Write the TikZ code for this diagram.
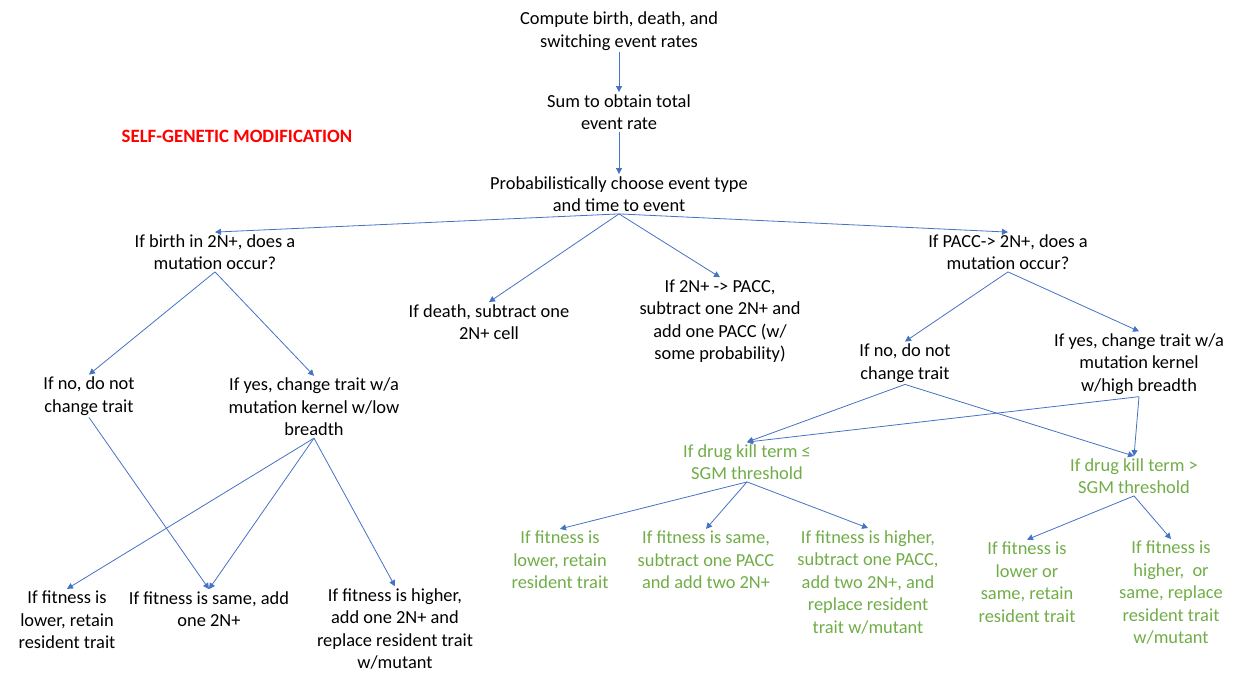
\documentclass[tikz,border=0pt]{standalone}
\usepackage{fontspec}
\setmainfont{Carlito}
\usetikzlibrary{arrows.meta}
\definecolor{arrblue}{RGB}{68,114,196}
\definecolor{sgmgreen}{RGB}{112,173,71}
\definecolor{sgmred}{RGB}{255,0,0}

\begin{document}
\begin{tikzpicture}[x=1pt,y=-1pt,
  txt/.style={align=center, inner sep=2pt, font=\fontsize{18.4}{22.5}\selectfont},
  grn/.style={txt, text=sgmgreen},
  arr/.style={arrblue, line width=0.8pt, -{Triangle[width=6pt,length=6pt]}}]
\useasboundingbox (0,0) rectangle (1237,673);
% main chain
\node[txt] (rates) at (619,31) {Compute birth, death, and\\switching event rates};
\node[txt] (sum) at (619,112) {Sum to obtain total\\event rate};
\node[txt] (choose) at (619,194) {Probabilistically choose event type\\and time to event};
\node[txt, text=sgmred, font=\fontsize{18.8}{22}\bfseries] (title) at (237,136) {SELF-GENETIC MODIFICATION};
% events
\node[txt] (birth) at (215,252) {If birth in 2N+, does a\\mutation occur?};
\node[txt] (death) at (489,322) {If death, subtract one\\2N+ cell};
\node[txt] (topacc) at (720,321) {If 2N+ -> PACC,\\subtract one 2N+ and\\add one PACC (w/\\some probability)};
\node[txt] (frompacc) at (1008,252) {If PACC-> 2N+, does a\\mutation occur?};
% birth branch
\node[txt] (lno) at (89,396) {If no, do not\\change trait};
\node[txt] (lyes) at (314,407) {If yes, change trait w/a\\mutation kernel w/low\\breadth};
\node[txt] (llow) at (67,620) {If fitness is\\lower, retain\\resident trait};
\node[txt] (lsame) at (209,609) {If fitness is same, add\\one 2N+};
\node[txt] (lhigh) at (395,629) {If fitness is higher,\\add one 2N+ and\\replace resident trait\\w/mutant};
% PACC branch
\node[txt] (rno) at (905,363) {If no, do not\\change trait};
\node[txt] (ryes) at (1139,364) {If yes, change trait w/a\\mutation kernel\\w/high breadth};
\node[grn] (le) at (747,462) {If drug kill term ≤\\SGM threshold};
\node[grn] (gt) at (1134,476) {If drug kill term >\\SGM threshold};
\node[grn] (rlow) at (560,560) {If fitness is\\lower, retain\\resident trait};
\node[grn] (rsame) at (706,560) {If fitness is same,\\subtract one PACC\\and add two 2N+};
\node[grn] (rhigh) at (868,582) {If fitness is higher,\\subtract one PACC,\\add two 2N+, and\\replace resident\\trait w/mutant};
\node[grn] (rlowsame) at (1027,582) {If fitness is\\lower or\\same, retain\\resident trait};
\node[grn] (rhighsame) at (1171,593) {If fitness is\\higher,~ or\\same, replace\\resident trait\\w/mutant};
% connectors
\draw[arr] (rates) -- (sum);
\draw[arr] (sum) -- (choose);
\draw[arr] (choose.south) -- (birth.north);
\draw[arr] (choose.south) -- (death.north);
\draw[arr] (choose.south) -- (topacc.north);
\draw[arr] (choose.south) -- (frompacc.north);
\draw[arr] (birth.south) -- (lno.north);
\draw[arr] (birth.south) -- (lyes.north);
\draw[arr] (lno.south) -- (lsame.north);
\draw[arr] (lyes.south) -- (llow.north);
\draw[arr] (lyes.south) -- (lsame.north);
\draw[arr] (lyes.south) -- (lhigh.north);
\draw[arr] (frompacc.south) -- (rno.north);
\draw[arr] (frompacc.south) -- (ryes.north);
\draw[arr] (rno.south) -- (le.north);
\draw[arr] (rno.south) -- (gt.north);
\draw[arr] (ryes.south) -- (le.north);
\draw[arr] (ryes.south) -- (gt.north);
\draw[arr] (le.south) -- (rlow.north);
\draw[arr] (le.south) -- (rsame.north);
\draw[arr] (le.south) -- (rhigh.north);
\draw[arr] (gt.south) -- (rlowsame.north);
\draw[arr] (gt.south) -- (rhighsame.north);
\end{tikzpicture}
\end{document}
